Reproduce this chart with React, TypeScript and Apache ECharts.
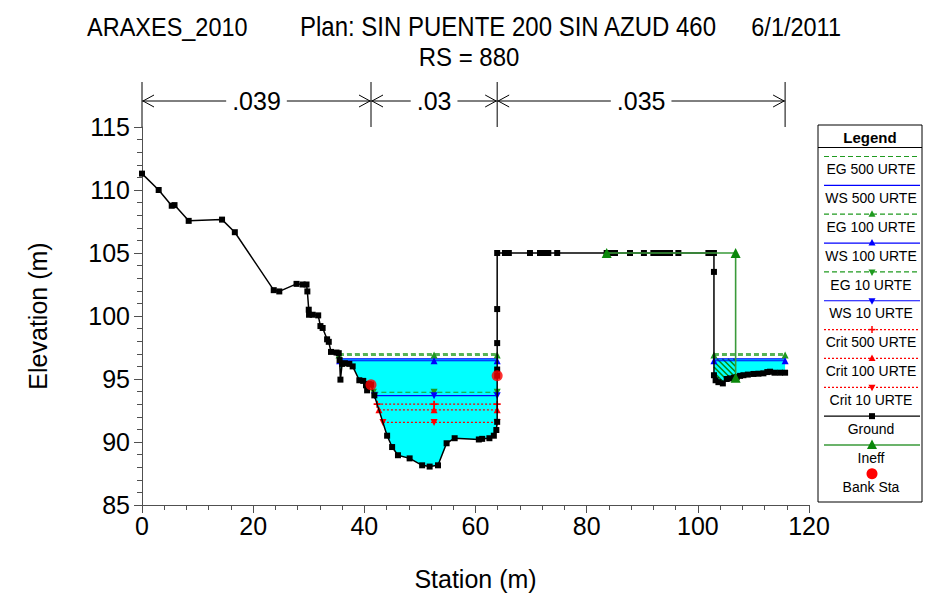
import React, { useEffect, useRef } from 'react';
import * as echarts from 'echarts';

const FONT = '"Liberation Sans", Arial, Helvetica, sans-serif';

// ---------- data ----------
const groundStation = [
  0, 3.0, 5.35, 5.85, 8.4, 14.4, 16.7, 23.7, 24.7, 27.8,
  28.9, 29.6, 29.75, 30.0, 30.05, 30.7, 31.7, 32.1, 32.5, 33.3,
  33.6, 34.0, 35.0, 35.4, 35.55, 35.7, 36.0, 36.5, 37.3, 37.9,
  39.1, 39.8, 40.3, 40.5, 40.8, 41.2, 41.8, 44.1, 45.0, 46.05,
  48.15, 50.4, 51.75, 53.25, 54.8, 56.25, 60.6, 61.2, 62.5, 63.3,
  63.75, 63.9, 63.9, 63.9, 63.9, 63.9, 63.9, 65.3, 66.0, 69.8,
  71.6, 72.5, 73.1, 74.7, 83.6, 84.5, 85.1, 87.8, 90.3, 92.0,
  92.6, 93.5, 94.4, 95.0, 96.5, 101.9, 102.4, 102.9, 102.9, 102.9,
  103.2, 103.7, 104.5, 105.2, 105.8, 106.5, 107.0, 107.6, 108.2, 109.0,
  110.0, 110.9, 111.8, 112.5, 113.0, 113.8, 114.8, 115.7,
];
const groundElev = [
  111.3, 110.0, 108.75, 108.8, 107.55, 107.65, 106.65, 102.05, 101.95, 102.55,
  102.5, 102.5, 101.95, 100.5, 100.1, 100.1, 100.05, 99.2, 99.05, 98.15,
  97.95, 97.15, 97.1, 97.05, 96.5, 94.95, 96.2, 96.25, 96.2, 96.0,
  94.9, 94.85, 94.5, 94.1, 94.6, 94.55, 93.7, 90.5, 89.6, 88.95,
  88.7, 88.15, 88.05, 88.15, 89.9, 90.3, 90.2, 90.25, 90.3, 90.5,
  90.95, 91.6, 95.26, 95.75, 97.85, 100.55, 105.0, 105.0, 105.0, 105.0,
  105.0, 105.0, 105.0, 105.0, 105.0, 105.0, 105.0, 105.0, 105.0, 105.0,
  105.0, 105.0, 105.0, 105.0, 105.0, 105.0, 105.0, 105.0, 103.5, 95.3,
  94.9, 94.75, 94.65, 95.0, 95.05, 95.1, 95.15, 95.25, 95.3, 95.35,
  95.4, 95.42, 95.45, 95.55, 95.58, 95.5, 95.5, 95.5,
];

const bankStation = [41.2, 63.9];
const bankElev = [94.55, 95.26];

const manningN = ['.039', '.03', '.035'];

const profileNames = [
  'EG 500 URTE', 'WS 500 URTE', 'EG 100 URTE', 'WS 100 URTE', 'EG 10 URTE',
  'WS 10 URTE', 'Crit 500 URTE', 'Crit 100 URTE', 'Crit 10 URTE',
];
const profileElev = [97.0, 96.6, 96.9, 96.45, 93.95, 93.68, 93.0, 92.55, 91.55];

const ineffStation = [83.6, 106.8, 106.8];
const ineffElev = [105.0, 105.0, 95.1];

const titleLeft = 'ARAXES_2010';
const titlePlan = 'Plan: SIN PUENTE 200 SIN AZUD 460';
const titleDate = '6/1/2011';
const subTitle = 'RS = 880';

// ---------- styles ----------
const EG_COLOR = '#1f9a1f';
const WS_COLOR = '#0000ff';
const CRIT_COLOR = '#ff0000';
const GROUND_COLOR = '#000000';
const INEFF_LINE = '#3a9a3a';
const INEFF_MARK = '#0a870a';
const WATER = '#00ffff';
const HATCH = '#0a870a';
const PLUS_PATH = 'path://M3,0H5V3H8V5H5V8H3V5H0V3H3Z';

type PStyle = { color: string; dash: number[] | 'solid'; symbol: string; rot: number };
const profileStyles: PStyle[] = [
  { color: EG_COLOR, dash: [5, 3], symbol: 'none', rot: 0 },
  { color: WS_COLOR, dash: 'solid', symbol: 'none', rot: 0 },
  { color: EG_COLOR, dash: [5, 3], symbol: 'triangle', rot: 0 },
  { color: WS_COLOR, dash: 'solid', symbol: 'triangle', rot: 0 },
  { color: EG_COLOR, dash: [5, 3], symbol: 'triangle', rot: 180 },
  { color: WS_COLOR, dash: 'solid', symbol: 'triangle', rot: 180 },
  { color: CRIT_COLOR, dash: [2, 2], symbol: 'plus', rot: 0 },
  { color: CRIT_COLOR, dash: [2, 2], symbol: 'triangle', rot: 0 },
  { color: CRIT_COLOR, dash: [2, 2], symbol: 'triangle', rot: 180 },
];

// wet regions of the ground below a level: list of polygons [[s,e],...]
function wetRegions(level: number): number[][][] {
  const n = groundStation.length;
  const regions: number[][][] = [];
  let cur: number[][] | null = null;
  for (let i = 0; i < n; i++) {
    const wet = groundElev[i] < level;
    if (i > 0) {
      const wasWet = groundElev[i - 1] < level;
      if (wet !== wasWet) {
        const t = (level - groundElev[i - 1]) / (groundElev[i] - groundElev[i - 1]);
        const s = groundStation[i - 1] + t * (groundStation[i] - groundStation[i - 1]);
        if (wet) cur = [[s, level]];
        else if (cur) {
          cur.push([s, level]);
          regions.push(cur);
          cur = null;
        }
      }
    } else if (wet) cur = [[groundStation[0], level]];
    if (wet && cur) cur.push([groundStation[i], groundElev[i]]);
  }
  if (cur) {
    cur.push([groundStation[n - 1], level]);
    regions.push(cur);
  }
  return regions;
}

function textWidth(str: string, size: number) {
  let w = 0;
  for (const ch of str) w += ch === '.' ? 0.278 : 0.556;
  return w * size;
}

export default function App() {
  const ref = useRef<HTMLDivElement>(null);

  useEffect(() => {
    const chart = echarts.init(ref.current!, null, { renderer: 'svg' });
    const channelCenter = (bankStation[0] + bankStation[1]) / 2;
    const wsTop = profileElev[1];
    const waterRegions = wetRegions(wsTop);

    const series: any[] = [];

    // water fill
    series.push({
      type: 'custom',
      name: 'water',
      z: 1,
      silent: true,
      data: waterRegions.map((r) => r[0]),
      renderItem: (params: any, api: any) => {
        const poly = waterRegions[params.dataIndex];
        return {
          type: 'polygon',
          shape: { points: poly.map((p) => api.coord(p)) },
          style: { fill: WATER, stroke: 'none' },
        };
      },
    });

    // ineffective hatch
    const hatchRegion = waterRegions.find(
      (r) => r[0][0] < ineffStation[1] && r[r.length - 1][0] > ineffStation[0]
    );
    if (hatchRegion) {
      const hFrom = Math.max(hatchRegion[0][0], ineffStation[0]);
      const hTo = Math.min(hatchRegion[hatchRegion.length - 1][0], ineffStation[1]);
      series.push({
        type: 'custom',
        name: 'hatch',
        z: 2,
        silent: true,
        data: [[hFrom, wsTop]],
        renderItem: (_params: any, api: any) => {
          const pts = hatchRegion.map((p) => api.coord(p));
          const xL = api.coord([hFrom, wsTop])[0];
          const xR = api.coord([hTo, wsTop])[0];
          const yTop = api.coord([hFrom, wsTop])[1];
          const bottomAt = (x: number) => {
            let best = -Infinity;
            for (let i = 0; i < pts.length - 1; i++) {
              const [x1, y1] = pts[i];
              const [x2, y2] = pts[i + 1];
              if (Math.abs(x2 - x1) < 1e-6) continue;
              if ((x - x1) * (x - x2) <= 0) {
                const y = y1 + ((y2 - y1) * (x - x1)) / (x2 - x1);
                if (y > best) best = y;
              }
            }
            return best;
          };
          let maxY = yTop;
          pts.forEach((p: number[]) => (maxY = Math.max(maxY, p[1])));
          const children: any[] = [];
          const sp = 5.5;
          for (let xs = xL - (maxY - yTop) - sp; xs < xR; xs += sp) {
            let start: number[] | null = null;
            let end: number[] | null = null;
            for (let t = Math.max(0, xL - xs); ; t += 0.25) {
              const x = xs + t;
              const y = yTop + t;
              if (x > xR) break;
              if (y > bottomAt(x)) break;
              if (!start) start = [x, y];
              end = [x, y];
            }
            if (start && end && Math.hypot(end[0] - start[0], end[1] - start[1]) > 1) {
              children.push({
                type: 'line',
                shape: { x1: start[0], y1: start[1], x2: end[0], y2: end[1] },
                style: { stroke: HATCH, lineWidth: 1.5 },
              });
            }
          }
          return { type: 'group', children };
        },
      });
    }

    // profile lines
    profileElev.forEach((lev, k) => {
      const st = profileStyles[k];
      wetRegions(lev).forEach((r) => {
        const a = r[0][0];
        const b = r[r.length - 1][0];
        const data: number[][] = [[a, lev]];
        if (channelCenter > a && channelCenter < b) data.push([channelCenter, lev]);
        data.push([b, lev]);
        series.push({
          type: 'line',
          name: profileNames[k],
          z: 3,
          silent: true,
          data,
          showSymbol: st.symbol !== 'none',
          symbol: st.symbol === 'plus' ? PLUS_PATH : st.symbol,
          symbolSize: 7,
          symbolRotate: st.rot,
          itemStyle: { color: st.color },
          lineStyle: { color: st.color, width: 1.2, type: st.dash },
        });
      });
    });

    // ground
    series.push({
      type: 'line',
      name: 'Ground',
      z: 4,
      silent: true,
      data: groundStation.map((s, i) => [s, groundElev[i]]),
      symbol: 'rect',
      symbolSize: 6,
      showAllSymbol: true,
      itemStyle: { color: GROUND_COLOR },
      lineStyle: { color: GROUND_COLOR, width: 1.5 },
    });

    // ineffective
    series.push({
      type: 'line',
      name: 'Ineff',
      z: 5,
      silent: true,
      data: ineffStation.map((s, i) => [s, ineffElev[i]]),
      symbol: 'triangle',
      symbolSize: 10,
      itemStyle: { color: INEFF_MARK },
      lineStyle: { color: INEFF_LINE, width: 1.6 },
    });

    // bank stations
    series.push({
      type: 'scatter',
      name: 'Bank Sta',
      z: 6,
      silent: true,
      data: bankStation.map((s, i) => [s, bankElev[i]]),
      symbol: 'circle',
      symbolSize: 11,
      itemStyle: { color: '#ff0000' },
    });

    const axisCommon = {
      axisLine: { show: true, lineStyle: { color: '#505050', width: 1 } },
      axisTick: { show: true, length: 8, lineStyle: { color: '#505050' } },
      minorTick: { show: true, splitNumber: 5, length: 5, lineStyle: { color: '#505050' } },
      splitLine: { show: false },
      minorSplitLine: { show: false },
      axisLabel: { color: '#000', fontSize: 25, fontFamily: FONT },
      nameTextStyle: { color: '#000', fontSize: 25, fontFamily: FONT },
    };

    chart.setOption({
      animation: false,
      backgroundColor: '#ffffff',
      grid: { left: 142, right: 123, top: 127, bottom: 93, containLabel: false },
      xAxis: {
        type: 'value',
        min: 0,
        max: 120,
        interval: 20,
        name: 'Station (m)',
        nameLocation: 'middle',
        nameGap: 61,
        ...axisCommon,
        axisLabel: { ...axisCommon.axisLabel, margin: 8 },
      },
      yAxis: {
        type: 'value',
        min: 85,
        max: 115,
        interval: 5,
        name: 'Elevation (m)',
        nameLocation: 'middle',
        nameGap: 92,
        nameRotate: 90,
        ...axisCommon,
        axisLabel: { ...axisCommon.axisLabel, margin: 12 },
      },
      series,
    });

    // ---------- graphics: titles, n-value header, legend ----------
    const toPx = (s: number, e: number) =>
      chart.convertToPixel({ xAxisIndex: 0, yAxisIndex: 0 }, [s, e]) as number[];
    const plotTop = toPx(0, 115)[1];
    const g: any[] = [];
    const txt = (text: string, x: number, y: number, size: number, align: string, weight = 'normal', sy = 1) => ({
      type: 'text',
      x,
      y,
      scaleY: sy,
      silent: true,
      style: {
        text,
        fill: '#000',
        font: `${weight} ${size}px ${FONT}`,
        align,
        verticalAlign: 'middle',
        textAlign: align,
        textVerticalAlign: 'middle',
      },
    });

    g.push(txt(titleLeft, 87, 26.5, 23.5, 'left', 'normal', 1.12));
    g.push(txt(titlePlan, 300, 26.5, 24, 'left', 'normal', 1.12));
    g.push(txt(titleDate, 841, 26.5, 23.5, 'right', 'normal', 1.12));
    g.push(txt(subTitle, 469, 57, 24, 'center', 'normal', 1.1));

    // n-value header
    const edges = [groundStation[0], bankStation[0], bankStation[1], groundStation[groundStation.length - 1]];
    const ex = edges.map((s) => toPx(s, 115)[0]);
    const barTop = plotTop - 45;
    const arrowY = plotTop - 26;
    const lineStyle = { stroke: '#000', lineWidth: 1 };
    ex.forEach((x) => {
      g.push({ type: 'line', silent: true, shape: { x1: x, y1: barTop, x2: x, y2: plotTop }, style: lineStyle });
    });
    for (let i = 0; i < 3; i++) {
      const xa = ex[i];
      const xb = ex[i + 1];
      const xc = (xa + xb) / 2;
      const w = textWidth(manningN[i], 25);
      g.push(txt(manningN[i], xc, arrowY, 25, 'center'));
      g.push({ type: 'line', silent: true, shape: { x1: xa, y1: arrowY, x2: xc - w / 2 - 6, y2: arrowY }, style: lineStyle });
      g.push({ type: 'line', silent: true, shape: { x1: xc + w / 2 + 6, y1: arrowY, x2: xb, y2: arrowY }, style: lineStyle });
      g.push({
        type: 'polyline', silent: true,
        shape: { points: [[xa + 12, arrowY - 6], [xa + 1, arrowY], [xa + 12, arrowY + 6]] },
        style: { stroke: '#000', lineWidth: 1, fill: 'none' },
      });
      g.push({
        type: 'polyline', silent: true,
        shape: { points: [[xb - 12, arrowY - 6], [xb - 1, arrowY], [xb - 12, arrowY + 6]] },
        style: { stroke: '#000', lineWidth: 1, fill: 'none' },
      });
    }

    // legend
    const LX = 818, LY = 125, LW = 104, LH = 377;
    g.push({ type: 'rect', silent: true, shape: { x: LX, y: LY, width: LW, height: LH }, style: { fill: '#fff', stroke: '#000', lineWidth: 1 } });
    g.push(txt('Legend', LX + LW / 2, 137, 15, 'center', 'bold'));
    g.push({ type: 'line', silent: true, shape: { x1: LX, y1: 147.5, x2: LX + LW, y2: 147.5 }, style: { stroke: '#000', lineWidth: 1 } });
    const cx = 872;
    const x1 = 824, x2 = 920;
    const marker = (kind: string, color: string, y: number, rot: number, size = 7): any[] => {
      const h = size / 2;
      if (kind === 'triangle') {
        const pts = rot === 180
          ? [[cx, y + h + 0.5], [cx - h, y - h + 1], [cx + h, y - h + 1]]
          : [[cx, y - h - 0.5], [cx - h, y + h - 1], [cx + h, y + h - 1]];
        return [{ type: 'polygon', silent: true, shape: { points: pts }, style: { fill: color } }];
      }
      if (kind === 'plus') {
        return [
          { type: 'line', silent: true, shape: { x1: cx - 3.5, y1: y, x2: cx + 3.5, y2: y }, style: { stroke: color, lineWidth: 1.5 } },
          { type: 'line', silent: true, shape: { x1: cx, y1: y - 3.5, x2: cx, y2: y + 3.5 }, style: { stroke: color, lineWidth: 1.5 } },
        ];
      }
      if (kind === 'rect') {
        return [{ type: 'rect', silent: true, shape: { x: cx - 3, y: y - 3, width: 6, height: 6 }, style: { fill: color } }];
      }
      if (kind === 'circle') {
        return [{ type: 'circle', silent: true, shape: { cx, cy: y, r: 5.5 }, style: { fill: color } }];
      }
      return [];
    };
    const rowH = 28.85;
    const firstLineY = 156.5;
    profileNames.forEach((name, k) => {
      const st = profileStyles[k];
      const ly = firstLineY + k * rowH;
      g.push({
        type: 'line', silent: true,
        shape: { x1, y1: ly, x2, y2: ly },
        style: { stroke: st.color, lineWidth: 1.2, lineDash: st.dash === 'solid' ? null : st.dash },
      });
      g.push(...marker(st.symbol, st.color, ly, st.rot));
      g.push(txt(name, cx - 1, ly + 12.5, 14, 'center', 'normal', 1.1));
    });
    let ly = firstLineY + 9 * rowH;
    g.push({ type: 'line', silent: true, shape: { x1, y1: ly, x2, y2: ly }, style: { stroke: GROUND_COLOR, lineWidth: 1.2 } });
    g.push(...marker('rect', GROUND_COLOR, ly, 0));
    g.push(txt('Ground', cx - 1, ly + 12.5, 14, 'center', 'normal', 1.1));
    ly += rowH;
    g.push({ type: 'line', silent: true, shape: { x1, y1: ly, x2, y2: ly }, style: { stroke: INEFF_LINE, lineWidth: 1.5 } });
    g.push(...marker('triangle', INEFF_MARK, ly, 0, 10));
    g.push(txt('Ineff', cx - 1, ly + 12.5, 14, 'center', 'normal', 1.1));
    ly += rowH;
    g.push(...marker('circle', '#ff0000', ly, 0));
    g.push(txt('Bank Sta', cx - 1, ly + 12.5, 14, 'center', 'normal', 1.1));

    chart.setOption({ graphic: g });

    return () => chart.dispose();
  }, []);

  return (
    <div
      ref={ref}
      style={{ position: 'fixed', left: 0, top: 0, width: 932, height: 598, background: '#fff' }}
    />
  );
}
